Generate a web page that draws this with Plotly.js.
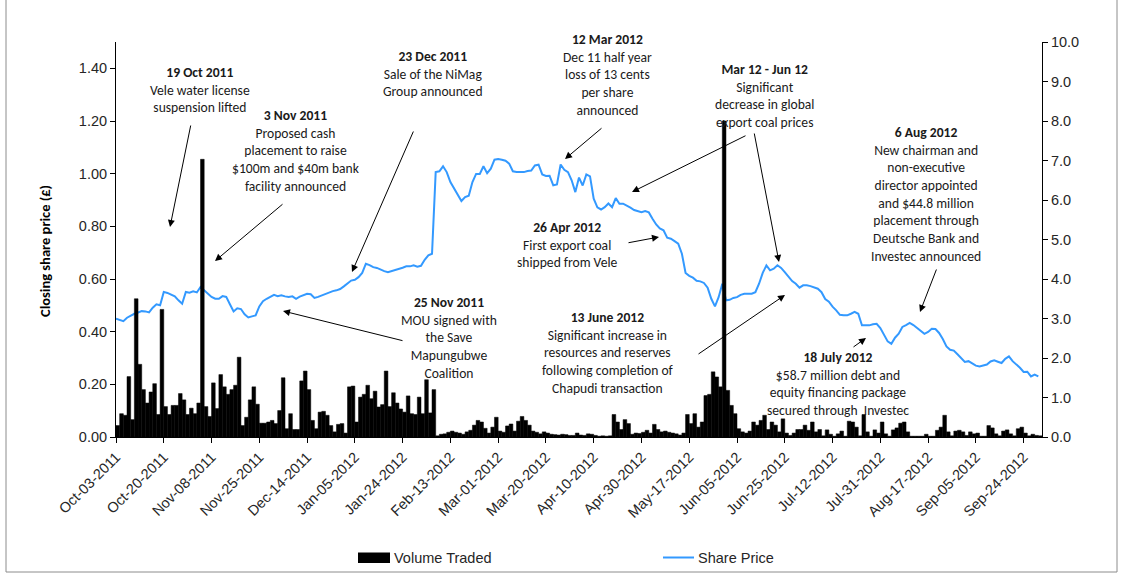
<!DOCTYPE html>
<html><head><meta charset="utf-8">
<script src="https://cdn.plot.ly/plotly-3.0.1.min.js"></script>
<style>html,body{margin:0;padding:0;background:#fff;} #chart{width:1121px;height:575px;}</style>
</head><body><div id="chart"></div>
<script>
// ---- data ----
const tickLabels = ['Oct-03-2011','Oct-20-2011','Nov-08-2011','Nov-25-2011','Dec-14-2011','Jan-05-2012','Jan-24-2012','Feb-13-2012','Mar-01-2012','Mar-20-2012','Apr-10-2012','Apr-30-2012','May-17-2012','Jun-05-2012','Jun-25-2012','Jul-12-2012','Jul-31-2012','Aug-17-2012','Sep-05-2012','Sep-24-2012'];
const labelEvery = 13; // one label every 13 trading days

const sharePrice = [
0.449,0.443,0.440,0.453,0.462,0.468,0.473,0.478,0.477,0.473,
0.491,0.504,0.500,0.551,0.547,0.539,0.534,0.519,0.506,0.551,
0.548,0.553,0.549,0.570,0.557,0.547,0.532,0.525,0.525,0.535,
0.532,0.504,0.477,0.489,0.486,0.466,0.454,0.458,0.462,0.496,
0.516,0.525,0.534,0.540,0.535,0.538,0.534,0.532,0.534,0.525,
0.533,0.540,0.544,0.542,0.528,0.532,0.538,0.544,0.549,0.554,
0.557,0.562,0.572,0.582,0.594,0.597,0.607,0.623,0.658,0.653,
0.645,0.642,0.635,0.630,0.626,0.630,0.633,0.639,0.643,0.648,
0.648,0.652,0.647,0.650,0.673,0.690,0.696,1.006,1.009,1.028,
1.006,0.968,0.944,0.918,0.896,0.911,0.916,0.968,0.999,0.999,
1.028,1.002,1.019,1.053,1.056,1.053,1.049,1.038,1.009,1.006,
1.005,1.006,1.010,1.012,1.031,1.034,0.997,0.991,0.992,0.956,
0.959,1.035,1.015,1.006,0.975,0.930,0.985,0.955,0.997,0.990,
0.905,0.872,0.864,0.873,0.887,0.873,0.907,0.886,0.886,0.880,
0.871,0.862,0.857,0.854,0.858,0.853,0.829,0.807,0.792,0.785,
0.757,0.753,0.744,0.734,0.696,0.623,0.612,0.605,0.593,0.591,
0.585,0.567,0.525,0.496,0.531,0.582,0.519,0.521,0.528,0.531,
0.540,0.544,0.544,0.544,0.550,0.582,0.623,0.652,0.633,0.639,
0.652,0.642,0.626,0.607,0.592,0.582,0.567,0.576,0.576,0.573,
0.568,0.563,0.550,0.524,0.514,0.495,0.481,0.464,0.462,0.462,
0.468,0.475,0.468,0.424,0.424,0.424,0.428,0.430,0.414,0.386,
0.363,0.354,0.377,0.392,0.418,0.425,0.433,0.425,0.415,0.402,
0.392,0.399,0.411,0.410,0.395,0.372,0.344,0.331,0.328,0.314,
0.300,0.285,0.288,0.281,0.271,0.268,0.272,0.275,0.287,0.291,
0.286,0.281,0.297,0.306,0.288,0.276,0.263,0.247,0.248,0.230,
0.237,0.230];

const volumeTraded = [
0.29,0.59,0.55,1.53,0.44,3.50,1.84,1.20,0.86,1.14,
1.35,0.57,3.23,0.77,0.57,0.80,0.80,1.10,0.94,0.57,
0.73,0.59,0.86,7.03,0.77,0.52,1.37,0.72,1.58,1.27,
1.08,1.20,1.31,2.02,0.29,0.50,0.94,1.27,0.83,0.35,
0.35,0.38,0.42,0.34,0.67,1.50,0.21,0.59,0.19,0.19,
1.42,1.67,1.20,0.42,0.21,0.63,0.65,0.55,0.29,0.13,
0.32,0.34,0.10,1.27,1.29,0.38,1.01,1.08,1.31,0.97,
1.16,0.76,0.82,1.67,0.77,1.12,0.86,0.71,0.63,1.04,
0.59,0.57,1.01,0.59,1.45,0.61,1.20,0.03,0.07,0.08,
0.12,0.15,0.12,0.10,0.07,0.13,0.17,0.30,0.42,0.38,
0.22,0.10,0.25,0.50,0.15,0.12,0.28,0.33,0.15,0.40,
0.52,0.42,0.30,0.15,0.12,0.08,0.13,0.10,0.07,0.06,
0.05,0.07,0.06,0.04,0.04,0.10,0.05,0.04,0.08,0.07,
0.04,0.02,0.03,0.02,0.03,0.57,0.38,0.19,0.44,0.34,
0.07,0.10,0.09,0.12,0.17,0.10,0.32,0.19,0.13,0.15,
0.12,0.10,0.08,0.05,0.10,0.57,0.34,0.59,0.25,0.38,
1.05,1.08,1.65,1.52,1.27,8.00,1.18,0.80,0.59,0.21,
0.13,0.10,0.15,0.38,0.30,0.42,0.55,0.19,0.38,0.30,
0.13,0.46,0.10,0.04,0.10,0.19,0.19,0.30,0.17,0.38,
0.13,0.19,0.03,0.18,0.07,0.02,0.08,0.15,0.02,0.40,
0.38,0.25,0.03,0.57,0.13,0.02,0.18,0.10,0.38,0.08,
0.02,0.18,0.23,0.35,0.38,0.13,0.02,0.02,0.02,0.02,
0.07,0.02,0.02,0.17,0.25,0.55,0.13,0.03,0.15,0.17,
0.13,0.04,0.13,0.08,0.10,0.02,0.02,0.29,0.23,0.08,
0.03,0.15,0.18,0.08,0.03,0.21,0.25,0.10,0.03,0.07,
0.04,0.03];

const priceTicks = [0,0.2,0.4,0.6,0.8,1.0,1.2,1.4];

const notes = [
  {px:200, py:89.5, lines:['19 Oct 2011','Vele water license','suspension lifted']},
  {px:296, py:151, lines:['3 Nov 2011','Proposed cash','placement to raise','$100m and $40m bank','facility announced']},
  {px:433, py:73.7, lines:['23 Dec 2011','Sale of the NiMag','Group announced']},
  {px:607, py:74.5, lines:['12 Mar 2012','Dec 11 half year','loss of 13 cents','per share','announced']},
  {px:764, py:96, lines:['Mar 12 - Jun 12','Significant','decrease in global','export coal prices']},
  {px:567, py:245, lines:['26 Apr 2012','First export coal','shipped from Vele']},
  {px:449, py:338.3, lines:['25 Nov 2011','MOU signed with','the Save','Mapungubwe','Coalition']},
  {px:608, py:352.7, lines:['13 June 2012','Significant increase in','resources and reserves','following completion of','Chapudi transaction']},
  {px:838, py:383.7, lines:['18 July 2012','$58.7 million debt and','equity financing package','secured through  Investec']},
  {px:926, py:194.3, lines:['6 Aug 2012','New chairman and','non-executive','director appointed','and $44.8 million','placement through','Deutsche Bank and','Investec announced']}
];
const arrows = [
  {tail:[191,124], head:[170,227]},
  {tail:[284,203], head:[215,261]},
  {tail:[414,130], head:[352,272]},
  {tail:[603,127], head:[565,159]},
  {tail:[747,135], head:[632,192]},
  {tail:[754,132], head:[779,262]},
  {tail:[627,243], head:[659,237]},
  {tail:[404,341], head:[283,311]},
  {tail:[697,355], head:[785,295]},
  {tail:[852,348], head:[866,338]},
  {tail:[937,268], head:[920,312]}
];

// ---- layout geometry ----
const W = 1121, H = 575, ML = 116, MR = 79, MT = 42, MB = 138;
const fx = px => (px - ML) / (W - ML - MR);
const fy = py => (H - MB - py) / (H - MT - MB);

const days = sharePrice.map((_, i) => i);
const txtFont = {family: 'Carlito, Lato, "Liberation Sans", sans-serif', size: 13.6, color: '#1a1a1a'};
const tickFont = {family: 'Arial, "Liberation Sans", sans-serif', size: 14.5, color: '#262626'};

const annotations = [];
notes.forEach(n => {
  annotations.push({
    xref: 'paper', yref: 'paper', x: fx(n.px), y: fy(n.py),
    xanchor: 'center', yanchor: 'middle', align: 'center', showarrow: false,
    text: '<b>' + n.lines[0] + '</b><br>' + n.lines.slice(1).join('<br>'),
    font: txtFont
  });
});
arrows.forEach(a => {
  annotations.push({
    xref: 'paper', yref: 'paper', x: fx(a.head[0]), y: fy(a.head[1]),
    ax: a.tail[0] - a.head[0], ay: a.tail[1] - a.head[1],
    text: '', showarrow: true, arrowhead: 2, arrowsize: 1.4, arrowwidth: 1,
    arrowcolor: '#000', standoff: 0, startstandoff: 0
  });
});
// y-axis title
annotations.push({
  xref: 'paper', yref: 'paper', x: fx(45), y: fy(251), textangle: -90,
  xanchor: 'center', yanchor: 'middle', showarrow: false,
  text: '<b>Closing share price (£)</b>',
  font: {family: 'Carlito, Lato, "Liberation Sans", sans-serif', size: 14.5, color: '#000'}
});
// legend texts
annotations.push({xref:'paper', yref:'paper', x: fx(392), y: fy(557.5), xanchor:'left', yanchor:'middle', showarrow:false, text:'Volume Traded', font: {family:'Arial, "Liberation Sans", sans-serif', size: 14.5, color:'#262626'}});
annotations.push({xref:'paper', yref:'paper', x: fx(696), y: fy(557.5), xanchor:'left', yanchor:'middle', showarrow:false, text:'Share Price', font: {family:'Arial, "Liberation Sans", sans-serif', size: 14.5, color:'#262626'}});

const frame = {color:'#8c8c8c', width:1};
const shapes = [
  {type:'line', xref:'paper', yref:'paper', x0: fx(6), x1: fx(6), y0: fy(0), y1: fy(572), line: frame},
  {type:'line', xref:'paper', yref:'paper', x0: fx(1117), x1: fx(1117), y0: fy(0), y1: fy(572), line: frame},
  {type:'line', xref:'paper', yref:'paper', x0: fx(6), x1: fx(1117), y0: fy(572), y1: fy(572), line: frame},
  {type:'rect', xref:'paper', yref:'paper', x0: fx(358), x1: fx(390), y0: fy(552.5), y1: fy(563), fillcolor:'#000', line:{width:0}},
  {type:'line', xref:'paper', yref:'paper', x0: fx(663), x1: fx(694), y0: fy(557.5), y1: fy(557.5), line:{color:'#3399ff', width:2}}
];

const traces = [
  {type:'bar', name:'Volume Traded', x: days, y: volumeTraded, yaxis:'y2',
   width: 1, offset: 0, marker:{color:'#000', line:{color:'#000', width:0.5}}, showlegend:false, hoverinfo:'skip'},
  {type:'scatter', mode:'lines', name:'Share Price', x: days, y: sharePrice, yaxis:'y',
   line:{color:'#3399ff', width:2}, showlegend:false, hoverinfo:'skip'}
];

const layout = {
  width: W, height: H,
  margin: {l: ML, r: MR, t: MT, b: MB, pad: 0},
  paper_bgcolor: '#fff', plot_bgcolor: '#fff',
  bargap: 0,
  showlegend: false,
  xaxis: {
    range: [0, sharePrice.length], tickmode: 'array',
    tickvals: tickLabels.map((_, k) => k * labelEvery), ticktext: tickLabels,
    tickangle: -45, ticks: 'outside', ticklen: 5, tickcolor: '#000', tickwidth: 1,
    showline: true, linecolor: '#000', linewidth: 1, showgrid: false, zeroline: false,
    tickfont: tickFont, fixedrange: true
  },
  yaxis: {
    range: [0, 1.5], tickmode: 'array', tickvals: priceTicks, tickformat: '.2f',
    ticks: 'outside', ticklen: 5, tickcolor: '#000', showline: true, linecolor: '#000',
    showgrid: false, zeroline: false, tickfont: tickFont
  },
  yaxis2: {
    range: [0, 10], dtick: 1, tickformat: '.1f', overlaying: 'y', side: 'right', anchor: 'x',
    ticks: 'outside', ticklen: 5, tickcolor: '#000', showline: true, linecolor: '#000',
    showgrid: false, zeroline: false, tickfont: tickFont
  },
  annotations: annotations,
  shapes: shapes
};

Plotly.newPlot('chart', traces, layout, {displayModeBar: false, staticPlot: true});
</script>
</body></html>
